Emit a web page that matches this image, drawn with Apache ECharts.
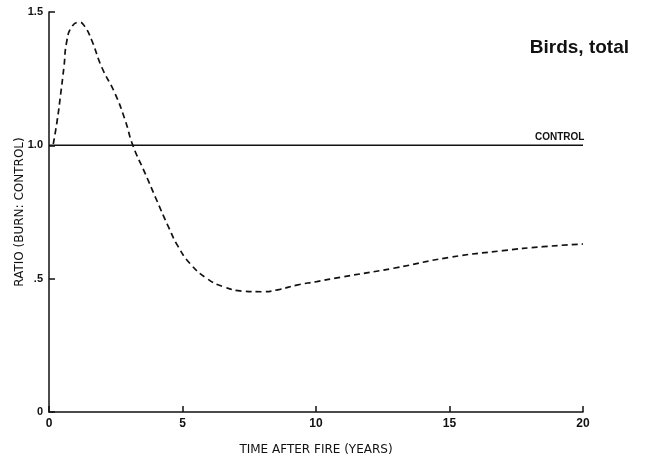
<!DOCTYPE html>
<html><head><meta charset="utf-8">
<script src="https://cdn.jsdelivr.net/npm/echarts@6/dist/echarts.min.js"></script>
<style>html,body{margin:0;padding:0;background:#fff}#c{width:650px;height:459px}</style>
</head><body><div id="c"></div>
<script>
const burnYears = [0.16, 0.31, 0.44, 0.56, 0.66, 0.85, 1.14, 1.35, 1.6, 1.97, 2.47, 2.85, 3.14, 3.6, 4.03, 4.47, 4.84, 5.28, 5.91, 6.53, 7.3, 7.97, 8.65, 9.28, 10.03, 10.9, 12.9, 15.0, 17.0, 18.5, 20];
const burnRatio = [1.005, 1.095, 1.195, 1.294, 1.387, 1.444, 1.462, 1.444, 1.394, 1.294, 1.195, 1.095, 1.0, 0.895, 0.795, 0.695, 0.62, 0.557, 0.501, 0.47, 0.453, 0.451, 0.46, 0.476, 0.489, 0.505, 0.539, 0.58, 0.605, 0.62, 0.63];
const controlYears = [0, 20];
const controlRatio = [1.0, 1.0];
const yTickLabels = {0: '0', 0.5: '.5', 1: '1.0', 1.5: '1.5'};

const chart = echarts.init(document.getElementById('c'));
const font = 'Liberation Sans';
const nameFont = 'DejaVu Sans';
chart.setOption({
  animation: false,
  title: {text: 'Birds, total', right: 16, top: 33, textStyle: {fontFamily: font, fontSize: 19, fontWeight: 'bold', color: '#111'}},
  grid: {left: 49, right: 67, top: 12, bottom: 47, outerBoundsMode: 'none'},
  xAxis: {
    type: 'value', min: 0, max: 20, interval: 5,
    name: 'TIME AFTER FIRE (YEARS)', nameLocation: 'middle', nameGap: 32, nameMoveOverlap: false,
    nameTextStyle: {fontFamily: nameFont, fontSize: 12, color: '#111'},
    axisLine: {lineStyle: {color: '#111', width: 1.5}},
    axisTick: {inside: true, length: 6, lineStyle: {color: '#111', width: 1.5}},
    axisLabel: {fontFamily: font, fontSize: 12, color: '#111', fontWeight: 'bold', margin: 6},
    splitLine: {show: false}
  },
  yAxis: {
    type: 'value', min: 0, max: 1.5, interval: 0.5,
    name: 'RATIO (BURN: CONTROL)', nameLocation: 'middle', nameGap: 23, nameMoveOverlap: false,
    nameTextStyle: {fontFamily: nameFont, fontSize: 12, color: '#111'},
    axisLine: {show: true, lineStyle: {color: '#111', width: 1.5}},
    axisTick: {show: true, inside: true, length: 6, lineStyle: {color: '#111', width: 1.5}},
    axisLabel: {fontFamily: font, fontSize: 11, color: '#111', fontWeight: 'bold', margin: 6,
      formatter: v => yTickLabels[v] !== undefined ? yTickLabels[v] : ''},
    splitLine: {show: false}
  },
  series: [
    {
      type: 'line', smooth: 0.5, symbol: 'none',
      data: burnYears.map((x, i) => [x, burnRatio[i]]),
      lineStyle: {color: '#111', width: 1.7, type: [6, 4]}
    },
    {
      type: 'line', symbol: 'none',
      data: controlYears.map((x, i) => [x, controlRatio[i]]),
      lineStyle: {color: '#111', width: 1.5},
      endLabel: {show: true, formatter: 'CONTROL', fontFamily: font, fontSize: 10, fontWeight: 'bold', color: '#111', offset: [-56, -8]}
    }
  ]
});
</script></body></html>
